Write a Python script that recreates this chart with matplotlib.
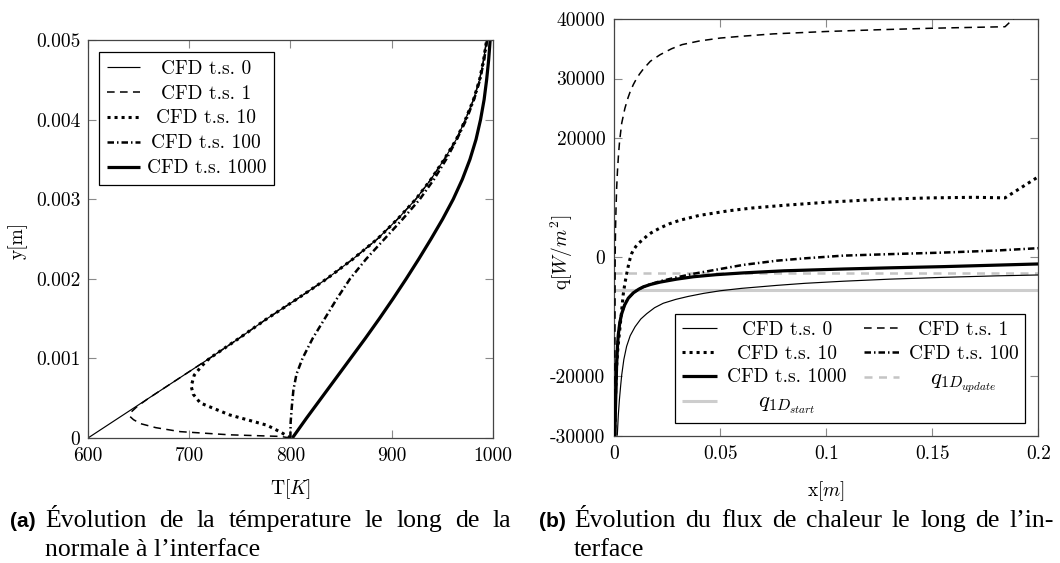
import matplotlib
matplotlib.use("Agg")
import matplotlib.pyplot as plt
from matplotlib.transforms import IdentityTransform

# ---------------- data: (a) temperature along the interface normal ----------------
y_ts0 = [0, 0.00025, 0.0005, 0.00075, 0.001, 0.00125, 0.0015, 0.00175, 0.002, 0.00225,
         0.0025, 0.00275, 0.003, 0.00325, 0.0035, 0.00375, 0.004, 0.00425, 0.0045, 0.00475, 0.005]
T_ts0 = [600, 630, 660, 690, 720, 749, 777, 807, 836, 862,
         886, 906, 924, 939, 952, 964, 973, 981, 987, 991, 994]

y_ts1 = [0, 0.00002, 0.00004, 0.00008, 0.00013, 0.00018, 0.00023, 0.00027, 0.00033, 0.0004,
         0.0005, 0.00075, 0.001, 0.00125, 0.0015, 0.00175, 0.002, 0.00225, 0.0025, 0.00275,
         0.003, 0.00325, 0.0035, 0.00375, 0.004, 0.00425, 0.0045, 0.00475, 0.005]
T_ts1 = [800, 790, 740, 691, 667, 652, 645, 641.5, 643, 649,
         660, 690, 720, 749, 777, 807, 836, 862, 886, 906,
         924, 939, 952, 964, 973, 981, 987, 991, 994]

y_ts10 = [0, 0.00007, 0.00016, 0.00029, 0.00044, 0.00055, 0.00065, 0.00079, 0.0009, 0.001,
          0.00125, 0.0015, 0.00175, 0.002, 0.00225, 0.0025, 0.00275, 0.003, 0.00325, 0.0035,
          0.00375, 0.004, 0.00425, 0.0045, 0.00475, 0.005]
T_ts10 = [800, 791, 777, 740, 711, 704, 702, 705, 712, 720,
          749, 777, 807, 836, 862, 886, 906, 924, 939, 952,
          964, 973, 981, 987, 991, 994]

y_ts100 = [0, 0.0002, 0.0004, 0.0006, 0.0008, 0.001, 0.00125, 0.0015, 0.00175, 0.002, 0.00225,
           0.0025, 0.00275, 0.003, 0.00325, 0.0035, 0.00375, 0.004, 0.00425, 0.0045, 0.00475, 0.005]
T_ts100 = [800, 800.3, 801.5, 803, 806, 812, 822, 834, 846, 859, 875,
           893, 911, 928, 942, 954, 964.5, 974, 981.5, 987.5, 991.5, 994.5]

y_ts1000 = [0, 0.00025, 0.0005, 0.00075, 0.001, 0.00125, 0.0015, 0.00175, 0.002, 0.00225,
            0.0025, 0.00275, 0.003, 0.00325, 0.0035, 0.00375, 0.004, 0.00425, 0.0045, 0.00475, 0.005]
T_ts1000 = [802, 816, 830.5, 845, 859.5, 874, 888, 901.5, 914.5, 927,
            939, 950.5, 961, 970, 977.5, 983.5, 988, 991.5, 994, 996, 997.5]

# ---------------- data: (b) heat flux along the interface ----------------
x_q0 = [0.0014, 0.0019, 0.0024, 0.003, 0.0035, 0.0045, 0.0058, 0.0075, 0.0098, 0.0125, 0.0153,
        0.019, 0.0231, 0.029, 0.0349, 0.042, 0.05, 0.06, 0.07, 0.0766, 0.09, 0.108, 0.13,
        0.155, 0.18, 0.2]
q_q0 = [-30000, -26500, -24000, -21600, -19800, -17200, -15000, -13200, -11700, -10400, -9500,
        -8500, -7750, -7100, -6600, -6100, -5650, -5250, -4950, -4750, -4400, -4050, -3700,
        -3400, -3150, -3000]

x_q1 = [0.0002, 0.0003, 0.0004, 0.0006, 0.0008, 0.0011, 0.0015, 0.002, 0.0025, 0.0035, 0.005,
        0.0065, 0.0075, 0.009, 0.0105, 0.012, 0.0137, 0.017, 0.0216, 0.027, 0.032, 0.04, 0.05,
        0.06, 0.075, 0.1, 0.125, 0.15, 0.17, 0.1843, 0.2]
q_q1 = [-30000, -15000, 0, 5000, 8000, 11500, 14500, 17300, 19500, 22500, 25000,
        26800, 27800, 29000, 30000, 30800, 31600, 32900, 34000, 35000, 35700, 36300, 36800,
        37100, 37500, 37900, 38200, 38450, 38600, 38700, 44000]

x_q10 = [0.0002, 0.0006, 0.0011, 0.0017, 0.0024, 0.003, 0.0035, 0.0042, 0.005, 0.0058, 0.0066,
         0.0074, 0.0082, 0.009, 0.0102, 0.0115, 0.0137, 0.0155, 0.0175, 0.0216, 0.026, 0.031,
         0.04, 0.0543, 0.065, 0.08, 0.1015, 0.125, 0.149, 0.17, 0.1843, 0.2]
q_q10 = [-30000, -23000, -18400, -15200, -12800, -10700, -8900, -6300, -4400, -2900, -1500,
         -300, 600, 1200, 1800, 2350, 3000, 3600, 4100, 4900, 5600, 6200,
         7000, 7800, 8250, 8700, 9250, 9700, 9950, 10050, 9950, 13500]

x_q100 = [0.0003, 0.0005, 0.0008, 0.0011, 0.0015, 0.0019, 0.0026, 0.0035, 0.0048, 0.0066, 0.009,
          0.0115, 0.0137, 0.017, 0.0216, 0.0294, 0.0373, 0.0451, 0.053, 0.0609, 0.07, 0.0766,
          0.09, 0.108, 0.13, 0.155, 0.18, 0.2]
q_q100 = [-30000, -26000, -22000, -18000, -15000, -13000, -11000, -9500, -8100, -6900, -6000,
          -5400, -5000, -4550, -4050, -3400, -2800, -2300, -1800, -1300, -900, -600,
          -200, 250, 500, 760, 1100, 1500]

x_q1000 = [0.0003, 0.0005, 0.0008, 0.0011, 0.0015, 0.0019, 0.0026, 0.0035, 0.0048, 0.0066, 0.009,
           0.0115, 0.0137, 0.017, 0.0216, 0.0294, 0.0373, 0.048, 0.0609, 0.08, 0.108, 0.13,
           0.155, 0.18, 0.2]
q_q1000 = [-30000, -26000, -22000, -18000, -15000, -13000, -11000, -9500, -8100, -6900, -6000,
           -5400, -5000, -4600, -4200, -3700, -3300, -2950, -2650, -2300, -2000, -1800,
           -1600, -1350, -1150]

q1D_update = -2700
q1D_start = -5600

labels_cfd = ["CFD t.s. 0", "CFD t.s. 1", "CFD t.s. 10", "CFD t.s. 100", "CFD t.s. 1000"]
label_update = r"$q_{1D_{update}}$"
label_start = r"$q_{1D_{start}}$"

T_ticks = [600, 700, 800, 900, 1000]
T_ticklabels = ["600", "700", "800", "900", "1000"]
y_ticks = [0, 0.001, 0.002, 0.003, 0.004, 0.005]
y_ticklabels = ["0", "0.001", "0.002", "0.003", "0.004", "0.005"]
x_ticks = [0, 0.05, 0.1, 0.15, 0.2]
x_ticklabels = ["0", "0.05", "0.1", "0.15", "0.2"]
q_ticks = [-30000, -20000, 0, 20000, 30000, 40000]
q_ticklabels = ["-30000", "-20000", "0", "20000", "30000", "40000"]

cap_a_line1 = "Évolution de la témperature le long de la"
cap_a_line2 = "normale à l’interface"
cap_b_line1 = "Évolution du flux de chaleur le long de l’in-"
cap_b_line2 = "terface"

# ---------------- style ----------------
plt.rcParams["font.family"] = ["cmr10", "DejaVu Serif"]
plt.rcParams["mathtext.fontset"] = "cm"
plt.rcParams["axes.unicode_minus"] = False
plt.rcParams["lines.solid_capstyle"] = "butt"

W, H = 1060, 563
fig = plt.figure(figsize=(W / 100, H / 100), dpi=100)

ax1 = fig.add_axes([88 / W, 1 - 438 / H, 404.7 / W, 398 / H])
ax2 = fig.add_axes([614.3 / W, 1 - 435.7 / H, 424 / W, 416.7 / H])

FS = 14
black = "black"
styles = [
    dict(color=black, lw=0.85, ls="-"),
    dict(color=black, lw=1.1, ls=(0, (5, 3.5))),
    dict(color=black, lw=2.2, ls=(0, (1, 1.3))),
    dict(color=black, lw=1.8, ls=(0, (2.6, 1.2, 0.6, 1.2))),
    dict(color=black, lw=2.3, ls="-"),
]
gray_up = dict(color="#c4c4c4", lw=1.8, ls=(0, (3.2, 2.6)))
gray_st = dict(color="#cdcdcd", lw=2.2, ls="-")

# ---- panel (a)
for (T, y), st, lab in zip([(T_ts0, y_ts0), (T_ts1, y_ts1), (T_ts10, y_ts10),
                            (T_ts100, y_ts100), (T_ts1000, y_ts1000)], styles, labels_cfd):
    ax1.plot(T, y, label=lab, **st)

ax1.set_xlim(600, 1000)
ax1.set_ylim(0, 0.005)
ax1.set_xticks(T_ticks)
ax1.set_xticklabels(T_ticklabels)
ax1.set_yticks(y_ticks)
ax1.set_yticklabels(y_ticklabels)
ax1.set_xlabel(r"T$[K]$", fontsize=FS)
ax1.set_ylabel("y[m]", fontsize=FS)
ax1.xaxis.set_label_coords(0.5, -0.098)
ax1.yaxis.set_label_coords(-0.148, 0.497)
ax1.xaxis.label.set_va("top")

# ---- panel (b)
ax2.axhline(q1D_update, zorder=1, **gray_up)
ax2.axhline(q1D_start, zorder=1, **gray_st)
hb = []
for (x, q), st, lab in zip([(x_q0, q_q0), (x_q1, q_q1), (x_q10, q_q10),
                            (x_q100, q_q100), (x_q1000, q_q1000)], styles, labels_cfd):
    hb += ax2.plot(x, q, label=lab, zorder=3, **st)
h_up, = ax2.plot([], [], label=label_update, **gray_up)
h_st, = ax2.plot([], [], label=label_start, **gray_st)

ax2.set_xlim(0, 0.2)
ax2.set_ylim(-30000, 40000)
ax2.set_xticks(x_ticks)
ax2.set_xticklabels(x_ticklabels)
ax2.set_yticks(q_ticks)
ax2.set_yticklabels(q_ticklabels)
ax2.set_xlabel(r"x$[m]$", fontsize=FS)
ax2.set_ylabel(r"q$[W/m^2]$", fontsize=FS)
ax2.xaxis.set_label_coords(0.5, -0.105)
ax2.yaxis.set_label_coords(-0.093, 0.441)
ax2.xaxis.label.set_va("top")

for ax, px, py in [(ax1, 6.5, 5.5), (ax2, 7.0, 6.5)]:
    for s in ax.spines.values():
        s.set_color("#454545")
        s.set_linewidth(0.9)
    ax.tick_params(axis="both", which="both", direction="in", top=True, right=True,
                   length=5.5, width=0.8, color="#8a8a8a", labelsize=FS)
    ax.tick_params(axis="x", pad=px)
    ax.tick_params(axis="y", pad=py)

# legends
leg_kw = dict(fontsize=FS, frameon=True, fancybox=False, framealpha=1, edgecolor="black",
              borderaxespad=0)
leg1 = ax1.legend(loc="upper left", bbox_to_anchor=(0.027, 0.970), handlelength=1.7,
                  handletextpad=0.35, labelspacing=0.36, borderpad=0.4, **leg_kw)
leg1.get_frame().set_linewidth(0.9)

order = [hb[0], hb[2], hb[4], h_st, hb[1], hb[3], h_up]
leg2 = ax2.legend(order, [h.get_label() for h in order], loc="lower right",
                  bbox_to_anchor=(0.969, 0.030), ncol=2, handlelength=1.8,
                  handletextpad=0.5, columnspacing=0.9, labelspacing=0.3, borderpad=0.35,
                  **leg_kw)
leg2.get_frame().set_linewidth(0.9)
for i in (3, 6):
    leg2.get_texts()[i].set_fontsize(16.5)

renderer = fig.canvas.get_renderer()


def center_columns(leg, columns):
    texts = leg.get_texts()
    for col in columns:
        ws = [texts[i].get_window_extent(renderer).width for i in col]
        m = max(ws)
        for i, w in zip(col, ws):
            texts[i].set_x((m - w) / 2)


center_columns(leg1, [[0, 1, 2, 3, 4]])
center_columns(leg2, [[0, 1, 2, 3], [4, 5, 6]])

# captions
cap_font = dict(family=["Liberation Serif", "DejaVu Serif"], fontsize=18.5)
lab_font = dict(family=["Liberation Sans", "DejaVu Sans"], fontsize=15, fontweight="bold")


def put(x, ybase, s, props):
    return fig.text(x, H - ybase, s, transform=IdentityTransform(), va="baseline", **props)


def justified(words, x0, x1, ybase, props):
    ts = [put(0, ybase, w, props) for w in words]
    ws = [t.get_window_extent(renderer).width for t in ts]
    gap = (x1 - x0 - sum(ws)) / (len(words) - 1)
    x = x0
    for t, w in zip(ts, ws):
        t.set_x(x)
        x += w + gap


put(10, 527, "(a)", lab_font)
justified(cap_a_line1.split(), 45, 511, 527, cap_font)
put(45, 556, cap_a_line2, cap_font)

put(539, 527, "(b)", lab_font)
justified(cap_b_line1.split(), 574, 1054, 527, cap_font)
put(574, 556, cap_b_line2, cap_font)

fig.savefig("out.png", dpi=100)
